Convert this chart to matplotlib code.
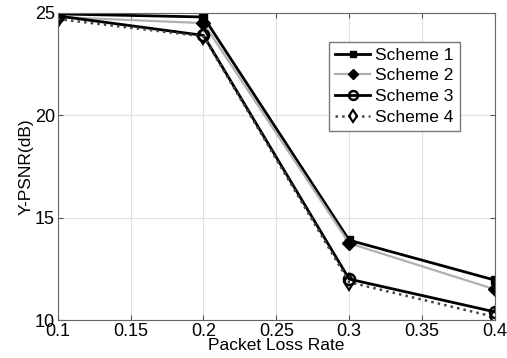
import numpy as np
import matplotlib
matplotlib.use('Agg')
import matplotlib.pyplot as plt

plt.rcParams['font.family'] = ['Liberation Sans', 'DejaVu Sans']

# packet loss rate vs Y-PSNR
loss = [0.1, 0.2, 0.3, 0.4]
scheme1 = [24.95, 24.8, 13.9, 11.95]
scheme2 = [24.8, 24.5, 13.75, 11.5]
scheme3 = [24.85, 23.9, 12.0, 10.4]
scheme4 = [24.7, 23.85, 11.85, 10.15]

fig = plt.figure(figsize=(5.07, 3.58), dpi=100)
ax = fig.add_axes([0.114, 0.106, 0.862, 0.858])

ax.plot(loss, scheme1, color='black', lw=2.0, marker='s', ms=6, label='Scheme 1')
ax.plot(loss, scheme2, color='#b0b0b0', lw=1.6, marker='D', ms=7,
        mfc='black', mec='black', label='Scheme 2')
ax.plot(loss, scheme3, color='black', lw=2.0, marker='o', ms=8,
        mfc='none', mec='black', mew=1.8, label='Scheme 3')
ax.plot(loss, scheme4, color='#444444', lw=1.8, ls=':', marker='d', ms=8,
        mfc='none', mec='black', mew=1.5, label='Scheme 4')

ax.set_xlim(0.1, 0.4)
ax.set_ylim(10, 25)
ax.set_xticks([0.1, 0.15, 0.2, 0.25, 0.3, 0.35, 0.4])
ax.set_xticklabels(['0.1', '0.15', '0.2', '0.25', '0.3', '0.35', '0.4'])
ax.set_yticks([10, 15, 20, 25])
ax.grid(True, color='#e0e0e0', lw=0.8)
ax.tick_params(direction='in', top=True, right=True, labelsize=13,
               color='#555555', pad=2)
for s in ax.spines.values():
    s.set_color('#666666')

ax.set_xlabel('Packet Loss Rate', fontsize=12.5, labelpad=-1)
ax.set_ylabel('Y-PSNR(dB)', fontsize=12.5, labelpad=1)

leg = ax.legend(loc='upper right', bbox_to_anchor=(0.94, 0.935), fontsize=12.5,
                fancybox=False, edgecolor='#777777', framealpha=1,
                handlelength=2.0, borderpad=0.35, labelspacing=0.32,
                handletextpad=0.3, markerscale=0.8)
leg.get_frame().set_linewidth(1.0)

fig.savefig('out.png', dpi=100)
